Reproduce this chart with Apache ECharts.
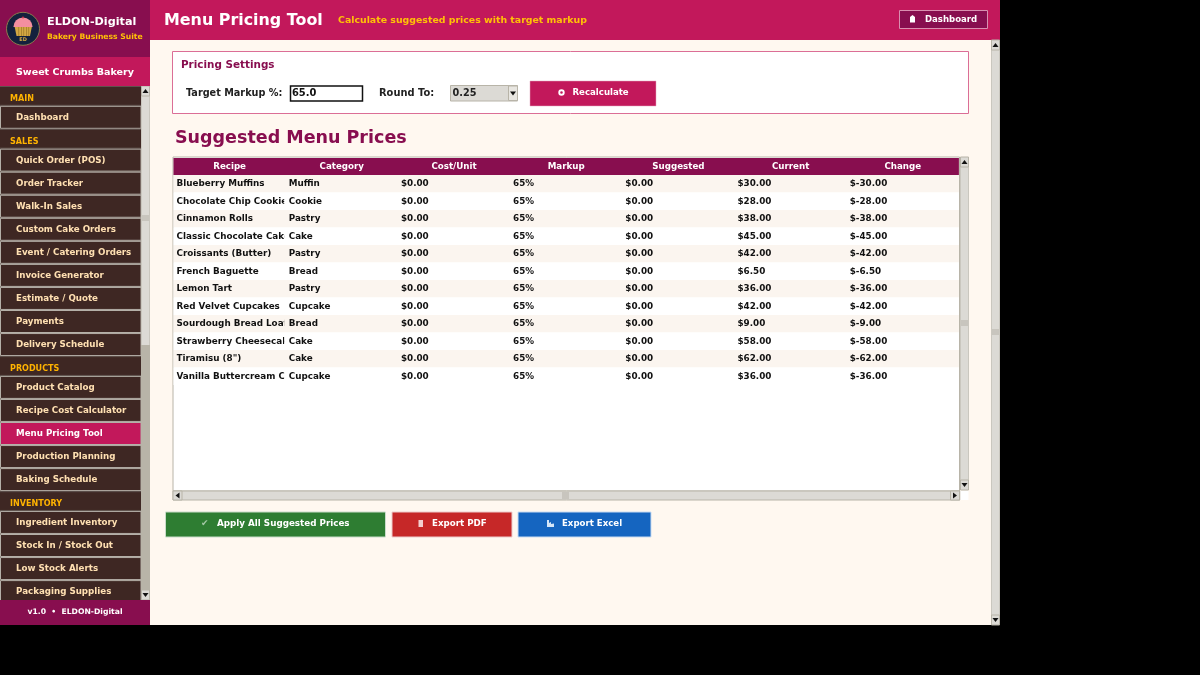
<!DOCTYPE html>
<html>
<head>
<meta charset="utf-8">
<style>html,body{margin:0;padding:0;background:#000}#container{width:1200px;height:675px}</style>
<script src="https://cdn.jsdelivr.net/npm/echarts@6/dist/echarts.min.js"></script>
</head>
<body>
<div id="container"></div>
<script>
// table data
var columns = ['Recipe', 'Category', 'Cost/Unit', 'Markup', 'Suggested', 'Current', 'Change'];
var recipes = ['Blueberry Muffins', 'Chocolate Chip Cookies', 'Cinnamon Rolls', 'Classic Chocolate Cake', 'Croissants (Butter)', 'French Baguette', 'Lemon Tart', 'Red Velvet Cupcakes', 'Sourdough Bread Loaf', 'Strawberry Cheesecake', 'Tiramisu (8")', 'Vanilla Buttercream Cupcake'];
var categories = ['Muffin', 'Cookie', 'Pastry', 'Cake', 'Pastry', 'Bread', 'Pastry', 'Cupcake', 'Bread', 'Cake', 'Cake', 'Cupcake'];
var costs = [0, 0, 0, 0, 0, 0, 0, 0, 0, 0, 0, 0];
var markups = [65, 65, 65, 65, 65, 65, 65, 65, 65, 65, 65, 65];
var suggested = [0, 0, 0, 0, 0, 0, 0, 0, 0, 0, 0, 0];
var current = [30, 28, 38, 45, 42, 6.5, 36, 42, 9, 58, 62, 36];
var change = [-30, -28, -38, -45, -42, -6.5, -36, -42, -9, -58, -62, -36];

// sidebar menu
var menuMain = ['Dashboard'];
var menuSales = ['Quick Order (POS)', 'Order Tracker', 'Walk-In Sales', 'Custom Cake Orders', 'Event / Catering Orders', 'Invoice Generator', 'Estimate / Quote', 'Payments', 'Delivery Schedule'];
var menuProducts = ['Product Catalog', 'Recipe Cost Calculator', 'Menu Pricing Tool', 'Production Planning', 'Baking Schedule'];
var menuInventory = ['Ingredient Inventory', 'Stock In / Stock Out', 'Low Stock Alerts', 'Packaging Supplies'];
var activeItem = 'Menu Pricing Tool';

var FONT = '"DejaVu Sans", sans-serif';
var PLUM = '#880E4F', PINK = '#C2185B', CREAM = '#FFF8F0', GOLD = '#FFC107', TROUGH = '#dcdad5', EDGE = '#b8b4a8';

var g = [];
function box(x, y, w, h, fill, stroke, lw, z) {
  g.push({type: 'rect', z: z || 1, shape: {x: x, y: y, width: w, height: h},
    style: {fill: fill, stroke: stroke || null, lineWidth: lw || 0}});
}
function label(x, y, text, size, color, align, z) {
  g.push({type: 'text', z: z || 5, x: x, y: y + 0.6,
    style: {text: text, fill: color, align: align || 'left', verticalAlign: 'middle',
      font: 'bold ' + size + 'px ' + FONT}});
}
function arrow(cx, cy, dir, z) {
  var s = 3, pts;
  if (dir == 'up') pts = [[cx - s, cy + 2], [cx + s, cy + 2], [cx, cy - 2]];
  if (dir == 'down') pts = [[cx - s, cy - 2], [cx + s, cy - 2], [cx, cy + 2]];
  if (dir == 'left') pts = [[cx + 2, cy - s], [cx + 2, cy + s], [cx - 2, cy]];
  if (dir == 'right') pts = [[cx - 2, cy - s], [cx - 2, cy + s], [cx + 2, cy]];
  g.push({type: 'polygon', z: z || 4, shape: {points: pts}, style: {fill: '#111'}});
}
function vScroll(x, y, h, thumbEnd, gripY, z) {
  box(x, y, 9, h, EDGE, null, 0, z);
  box(x + .5, y + 10, 8, thumbEnd - y - 10, TROUGH, null, 0, z);
  box(x + .5, y, 8, 10, TROUGH, EDGE, 1, z);
  box(x + .5, y + h - 10, 8, 10, TROUGH, EDGE, 1, z);
  box(x + 1, gripY - 3, 7, 6, '#c8c5be', null, 0, z);
  arrow(x + 4.5, y + 5, 'up', z + 1);
  arrow(x + 4.5, y + h - 5, 'down', z + 1);
}

// main area
box(150, 40, 850, 585, CREAM);
box(150, 0, 850, 40, PINK);
label(164, 20.5, 'Menu Pricing Tool', 15.9, '#fff');
label(338, 19.5, 'Calculate suggested prices with target markup', 9.4, GOLD);
box(899.5, 10.5, 88, 18, PLUM, '#d98fb0', 1, 2);
box(910, 17, 5, 5.5, '#fff', null, 0, 3);
g.push({type: 'polygon', z: 3, shape: {points: [[910, 17], [915, 17], [912.5, 15]]}, style: {fill: '#fff'}});
label(925, 19.2, 'Dashboard', 8.55, '#fff');
vScroll(991, 40, 585, 615, 332, 2);

// pricing settings
box(172.5, 51.5, 796, 62, '#fff', '#DB6E96', 1);
label(181, 64.5, 'Pricing Settings', 10.4, PLUM);
label(186, 93, 'Target Markup %:', 9.7, '#222');
box(290.5, 86, 72, 15, '#fff', '#111', 1.5, 2);
label(292, 93.2, '65.0', 9.9, '#111');
label(379, 93, 'Round To:', 9.9, '#222');
box(450.5, 85.5, 67, 15.5, TROUGH, EDGE, 1, 2);
label(452.5, 93.2, '0.25', 9.7, '#222');
box(508.5, 86, 9, 14.5, '#e8e6e1', EDGE, 1, 3);
arrow(513, 93.5, 'down', 4);
box(530, 81, 126, 25, PINK, '#e3a5bf', .5, 2);
g.push({type: 'ring', z: 4, shape: {cx: 561.5, cy: 92.5, r: 3.2, r0: 1.3}, style: {fill: '#fff'}});
label(572.5, 92.6, 'Recalculate', 8.6, '#fff');

label(175, 137.6, 'Suggested Menu Prices', 17.5, PLUM);

// table frame, the cells come from the custom series below
box(173, 157, 786.5, 334, '#fff', EDGE, 1);
box(173.5, 158, 785.4, 17, PLUM, null, 0, 2);
vScroll(960, 157, 333, 480, 323, 2);
box(173, 491, 787, 9, TROUGH, EDGE, 1, 2);
box(173, 491, 9, 9, TROUGH, EDGE, 1, 3);
box(950.5, 491, 9, 9, TROUGH, EDGE, 1, 3);
box(562, 492, 7, 7, '#c8c5be', null, 0, 3);
arrow(177.5, 495.5, 'left', 4);
arrow(955, 495.5, 'right', 4);
box(960.5, 491, 8, 9, '#fff', null, 0, 2);

// bottom buttons
box(165.5, 512, 220, 25, '#2E7D32', '#c9dcc9', 1, 2);
label(201, 523.5, '\u2714', 9, '#a5c9a7');
label(217, 523.6, 'Apply All Suggested Prices', 8.75, '#fff');
box(392, 512, 120, 25, '#C62828', '#eccccc', 1, 2);
box(418.5, 520, 4.5, 7, '#f3d0d0', null, 0, 3);
label(432, 523.6, 'Export PDF', 8.7, '#fff');
box(518, 512, 133, 25, '#1565C0', '#c9dcf2', 1, 2);
g.push({type: 'polygon', z: 3, shape: {points: [[547, 520], [549, 520], [549, 523], [551, 522], [551, 524], [554, 523.5], [554, 527], [547, 527]]}, style: {fill: '#d5e6f8'}});
label(562, 523.6, 'Export Excel', 8.6, '#fff');

// sidebar
box(0, 0, 150, 57, PLUM, null, 0, 6);
box(0, 57, 150, 29, PINK, null, 0, 6);
box(0, 86, 150, 514, '#3E2723', null, 0, 1);
box(0, 600, 150, 25, PLUM, null, 0, 6);

// logo
g.push({type: 'circle', z: 7, shape: {cx: 23, cy: 28.8, r: 16.5}, style: {fill: '#14213d', stroke: '#8d7a4d', lineWidth: 1}});
g.push({type: 'polygon', z: 8, shape: {points: [[14.5, 26], [32, 26], [30, 36], [16.5, 36]]}, style: {fill: '#D4A843'}});
[18.5, 21, 23.5, 26, 28.5].forEach(function (sx) {
  box(sx, 27, .6, 9, '#8f6f24', null, 0, 9);
});
g.push({type: 'sector', z: 8, shape: {cx: 23, cy: 27, r: 9.6, r0: 0, startAngle: Math.PI, endAngle: Math.PI * 2}, style: {fill: '#F48FA0'}});
g.push({type: 'circle', z: 9, shape: {cx: 23, cy: 17.5, r: 1}, style: {fill: '#d0304a'}});
label(23, 39.4, 'ED', 5, '#D4A843', 'center', 9);
label(47, 21.8, 'ELDON-Digital', 11.2, '#fff', 'left', 9);
label(47, 36.2, 'Bakery Business Suite', 7.65, GOLD, 'left', 9);
label(75, 71.8, 'Sweet Crumbs Bakery', 9.55, '#fff', 'center', 9);
label(75, 611.8, 'v1.0  \u2022  ELDON-Digital', 7.65, '#fff', 'center', 9);

var sections = [['MAIN', menuMain], ['SALES', menuSales], ['PRODUCTS', menuProducts], ['INVENTORY', menuInventory]];
var sy = 86;
sections.forEach(function (sec) {
  box(-1, sy + .5, 142.5, 18.8, '#3E2723', '#5f524d', 1, 2);
  label(10, sy + 12.2, sec[0], 8.05, '#FFB300');
  sy += 19.8;
  sec[1].forEach(function (name) {
    var on = name == activeItem;
    box(.5, sy + .5, 140.5, 22, on ? PINK : '#3E2723', '#b5b0a8', 1, 2);
    label(16, sy + 11.4, name, 8.7, on ? '#fff' : '#FFE0B2');
    sy += 23.05;
  });
});
vScroll(141, 86, 514, 345, 218, 3);

// one flat list of cells for the custom series
var cellText = [
  recipes,
  categories,
  costs.map(function (v) { return '$' + v.toFixed(2); }),
  markups.map(function (v) { return v + '%'; }),
  suggested.map(function (v) { return '$' + v.toFixed(2); }),
  current.map(function (v) { return '$' + v.toFixed(2); }),
  change.map(function (v) { return '$' + v.toFixed(2); })
];
var cells = [];
var stripes = [];
recipes.forEach(function (r, i) {
  stripes.push([0, i]);
  columns.forEach(function (c, j) {
    cells.push([j, i, cellText[j][i]]);
  });
});

var myChart = echarts.init(document.getElementById('container'), null, {renderer: 'canvas'});
var option = {
  animation: false,
  backgroundColor: '#000',
  graphic: {elements: g},
  grid: {left: 173.5, top: 175, width: 785.4, height: 210, z: 3},
  xAxis: {
    type: 'category', position: 'top', data: columns, z: 5,
    axisLine: {show: false}, axisTick: {show: false},
    axisLabel: {color: '#fff', fontFamily: FONT, fontWeight: 'bold', fontSize: 8.7, margin: 8, verticalAlign: 'middle'}
  },
  yAxis: {type: 'category', inverse: true, data: recipes, show: false},
  series: [
    {
      type: 'custom', z: 3, data: stripes, clip: false, silent: true,
      renderItem: function (params, api) {
        var row = api.value(1);
        var pt = api.coord([0, row]);
        var size = api.size([1, 1]);
        return {
          type: 'rect',
          shape: {x: pt[0] - size[0] / 2, y: pt[1] - size[1] / 2, width: size[0] * columns.length, height: size[1]},
          style: {fill: row % 2 == 0 ? '#FBF5EF' : '#fff'}
        };
      }
    },
    {
      type: 'custom', z: 4, data: cells, clip: false, silent: true,
      renderItem: function (params, api) {
        var pt = api.coord([api.value(0), api.value(1)]);
        var size = api.size([1, 1]);
        return {
          type: 'text',
          x: pt[0] - size[0] / 2 + 3,
          y: pt[1],
          style: {text: cells[params.dataIndex][2], fill: '#111', verticalAlign: 'middle', font: 'bold 8.8px ' + FONT},
          clipPath: {type: 'rect', shape: {x: 0, y: -9, width: size[0] - 4.5, height: 18}}
        };
      }
    }
  ]
};
myChart.setOption(option);
</script>
</body>
</html>
